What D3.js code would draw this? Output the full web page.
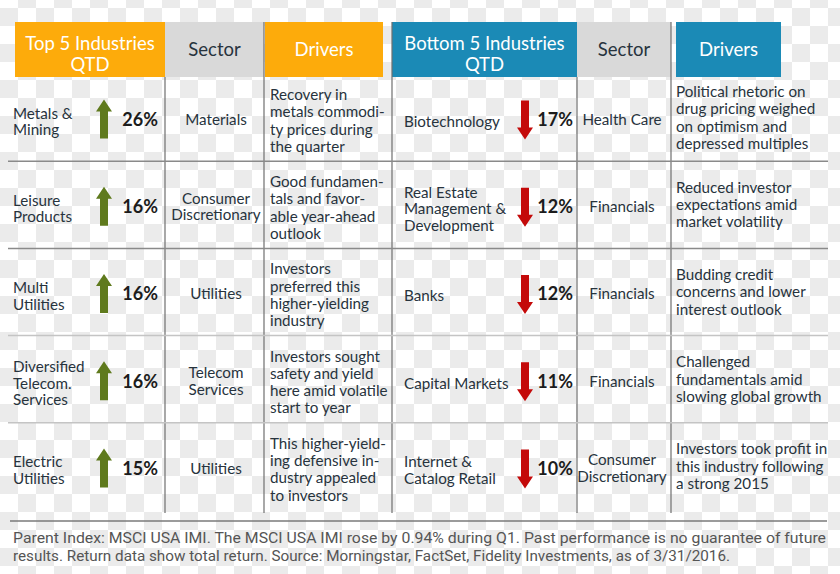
<!DOCTYPE html>
<html><head><meta charset="utf-8">
<script src="https://cdn.jsdelivr.net/npm/d3@7"></script>
<style>
body{margin:0;background:#fff}
svg{display:block}
text{font-family:Lato,"Open Sans",sans-serif}
</style>
</head><body>
<svg id="chart" width="840" height="574"></svg>
<script>
// ---------- data ----------
const topIndustries = ["Metals &\nMining", "Leisure\nProducts", "Multi\nUtilities", "Diversified\nTelecom.\nServices", "Electric\nUtilities"];
const topReturns = [26, 16, 16, 16, 15];
const topSectors = ["Materials", "Consumer\nDiscretionary", "Utilities", "Telecom\nServices", "Utilities"];
const topDrivers = [
  "Recovery in\nmetals commodi-\nty prices during\nthe quarter",
  "Good fundamen-\ntals and favor-\nable year-ahead\noutlook",
  "Investors\npreferred this\nhigher-yielding\nindustry",
  "Investors sought\nsafety and yield\nhere amid volatile\nstart to year",
  "This higher-yield-\ning defensive in-\ndustry appealed\nto investors"
];
const bottomIndustries = ["Biotechnology", "Real Estate\nManagement &\nDevelopment", "Banks", "Capital Markets", "Internet &\nCatalog Retail"];
const bottomReturns = [-17, -12, -12, -11, -10];
const bottomSectors = ["Health Care", "Financials", "Financials", "Financials", "Consumer\nDiscretionary"];
const bottomDrivers = [
  "Political rhetoric on\ndrug pricing weighed\non optimism and\ndepressed multiples",
  "Reduced investor\nexpectations amid\nmarket volatility",
  "Budding credit\nconcerns and lower\ninterest outlook",
  "Challenged\nfundamentals amid\nslowing global growth",
  "Investors took profit in\nthis industry following\na strong 2015"
];
const topHeaders = ["Top 5 Industries\nQTD", "Sector", "Drivers"];
const bottomHeaders = ["Bottom 5 Industries\nQTD", "Sector", "Drivers"];
const footnoteLines = [
  "Parent Index: MSCI USA IMI. The MSCI USA IMI rose by 0.94% during Q1. Past performance is no guarantee of future",
  "results. Return data show total return. Source: Morningstar, FactSet, Fidelity Investments, as of 3/31/2016."
];

// ---------- styles ----------
const C = {
  orange: "#fdab0b", blue: "#1b8ab6", gray: "#d9d9d9",
  text: "#27333d", green: "#5f7a1d", red: "#c40a0a", line: "#6f6f6f"
};
const BODY = 15.2;

const svg = d3.select("#chart");

// checkerboard background
const defs = svg.append("defs");
const pat = defs.append("pattern").attr("id", "chk").attr("patternUnits", "userSpaceOnUse")
  .attr("width", 36).attr("height", 36).attr("y", 8);
pat.append("rect").attr("width", 36).attr("height", 36).attr("fill", "#ffffff");
pat.append("rect").attr("width", 18).attr("height", 18).attr("fill", "#ebebeb");
pat.append("rect").attr("x", 18).attr("y", 18).attr("width", 18).attr("height", 18).attr("fill", "#ebebeb");
svg.append("rect").attr("width", 840).attr("height", 574).attr("fill", "url(#chk)");

// row scale
const rowIdx = d3.range(5);
const y = d3.scaleBand().domain(rowIdx).range([74, 510]).paddingInner(0).paddingOuter(0);
const rc = i => y(i) + y.bandwidth() / 2 + 2;

// multi-line text helper
function multiText(g, str, x, cy, lh, anchor, size, fill, weight) {
  const lines = str.split("\n");
  const t = g.append("text").attr("text-anchor", anchor).attr("font-size", size)
    .attr("fill", fill).attr("font-weight", weight || 400);
  lines.forEach((ln, k) => {
    t.append("tspan").attr("x", x)
      .attr("y", cy + (k - (lines.length - 1) / 2) * lh)
      .attr("dy", "0.35em").text(ln);
  });
  return t;
}

// header
const headerY = 22, headerH = 55;
const sides = [
  {headers: topHeaders, color: C.orange,
   boxes: [[15, 165], [165, 264], [265, 383]],
   industries: topIndustries, returns: topReturns, sectors: topSectors, drivers: topDrivers,
   indX: 13, arrowX: 104, pctX: 158, secX: 216, drvX: 270, drvDy: 1},
  {headers: bottomHeaders, color: C.blue,
   boxes: [[392, 577], [577, 671], [676, 781]],
   industries: bottomIndustries, returns: bottomReturns, sectors: bottomSectors, drivers: bottomDrivers,
   indX: 404, arrowX: 525, pctX: 573, secX: 622, drvX: 676, drvDy: -2}
];

sides.forEach(s => {
  const hg = svg.append("g");
  s.boxes.forEach((b, k) => {
    hg.append("rect").attr("x", b[0]).attr("y", headerY).attr("width", b[1] - b[0]).attr("height", headerH)
      .attr("fill", k === 1 ? C.gray : s.color);
    const n = s.headers[k].split("\n").length;
    multiText(hg, s.headers[k], (b[0] + b[1]) / 2, 49.5 + (n - 1) * 5, 21, "middle", 18.5,
      k === 1 ? C.text : "#ffffff");
  });
});

// vertical lines
const vlines = [[165, 77], [264, 22], [392, 22], [577, 77], [671, 22]];
svg.append("g").selectAll("line").data(vlines).join("line")
  .attr("x1", d => d[0]).attr("x2", d => d[0]).attr("y1", d => d[1]).attr("y2", 513)
  .attr("stroke", C.line).attr("stroke-width", 1.2);

// horizontal row separators
svg.append("g").selectAll("line").data(rowIdx.slice(1)).join("line")
  .attr("x1", 8).attr("x2", 828).attr("y1", d => y(d)).attr("y2", d => y(d))
  .attr("stroke", (d) => d < 3 ? "#8a8a8a" : "#c4c4c4").attr("stroke-width", 1.5);
svg.append("line").attr("x1", 10).attr("x2", 827).attr("y1", 521).attr("y2", 521)
  .attr("stroke", "#7a7a7a").attr("stroke-width", 1.5);

// arrow glyph (pointing up), centered at 0,0
const arrowUp = "M0,-20 L8,-8 L4,-8 L4,19 L-4,19 L-4,-8 L-8,-8 Z";

sides.forEach(s => {
  const g = svg.append("g");
  rowIdx.forEach(i => {
    const cy = rc(i);
    multiText(g, s.industries[i], s.indX, cy + 2, 16.5, "start", BODY, C.text);
    const v = s.returns[i];
    g.append("path").attr("d", arrowUp)
      .attr("transform", `translate(${s.arrowX},${cy}) rotate(${v < 0 ? 180 : 0})`)
      .attr("fill", v < 0 ? C.red : C.green);
    g.append("text").attr("x", s.pctX).attr("y", cy).attr("dy", "0.35em")
      .attr("text-anchor", "end").attr("font-size", 18).attr("font-weight", 700)
      .attr("fill", "#1c1c1c").text(Math.abs(v) + "%");
    multiText(g, s.sectors[i], s.secX, cy, 16.6, "middle", BODY, C.text);
    multiText(g, s.drivers[i], s.drvX, cy + s.drvDy, 17.3, "start", BODY, C.text);
  });
});

// footnote
const fn = svg.append("g");
const fnWidths = [813, 717];
footnoteLines.forEach((t, k) => {
  fn.append("text").attr("x", 13).attr("y", 538 + k * 18).attr("dy", "0.35em")
    .attr("font-size", 14.5).attr("fill", "#555")
    .style("font-family", "Roboto, sans-serif")
    .attr("textLength", fnWidths[k]).attr("lengthAdjust", "spacingAndGlyphs")
    .text(t);
});
</script>
</body></html>
